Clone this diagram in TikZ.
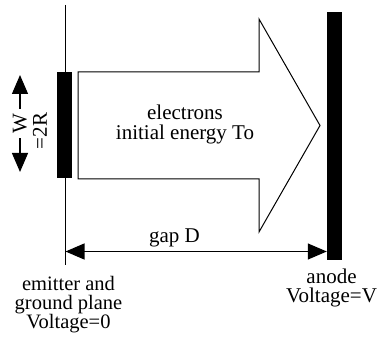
\documentclass[tikz,border=0pt]{standalone}
\usepackage{fontspec}
\setmainfont{Liberation Serif}
\usetikzlibrary{arrows.meta}
\begin{document}
\begin{tikzpicture}[
  x=1pt, y=-1pt,
  every node/.style={font=\fontsize{21}{19}\selectfont, inner sep=0pt},
  plate/.style={fill=black, inner sep=0pt, minimum width=15pt},
  wire/.style={draw, line width=1pt},
  outline/.style={draw, line width=1pt, line join=miter},
  dim/.style={draw, line width=1.2pt, {Triangle[length=19pt,width=16pt]}-{Triangle[length=19pt,width=16pt]}}
]
  \useasboundingbox (0,0) rectangle (377,347);

  \coordinate (gndtop) at (65,5);
  \coordinate (gndbot) at (65,265);
  \draw[wire] (gndtop) -- (gndbot);

  \node[plate, minimum height=106pt] (emitter) at (64.5,125) {};
  \node[plate, minimum height=248pt] (anode) at (334.5,136) {};

  \draw[outline] (78,72) -- (259,72) -- (259,19) -- (320,125.5) -- (259,232) -- (259,179) -- (78,179) -- cycle;
  \node[align=center, font=\fontsize{21}{19.5}\selectfont] (beam) at (185,124.5) {electrons\\initial energy To};

  \coordinate (wtop) at (20,75);
  \coordinate (wbot) at (20,172);
  \draw[dim] (wtop) -- node[rotate=90, fill=white, inner sep=5pt] (wlabel) {W} (wbot);
  \node[rotate=90] (radius) at (40,131) {=2R};

  \coordinate (gapleft) at (65.5,251.5);
  \draw[dim] (gapleft) -- (anode.west |- gapleft);
  \node[anchor=base] (gap) at (174.5,243) {gap D};

  \node[align=center, font=\fontsize{20.5}{19}\selectfont] (emitterlabel) at (68.5,305) {emitter and\\ground plane\\Voltage=0};
  \node[align=center] (anodelabel) at (331.5,288) {anode\\Voltage=V};
\end{tikzpicture}
\end{document}
